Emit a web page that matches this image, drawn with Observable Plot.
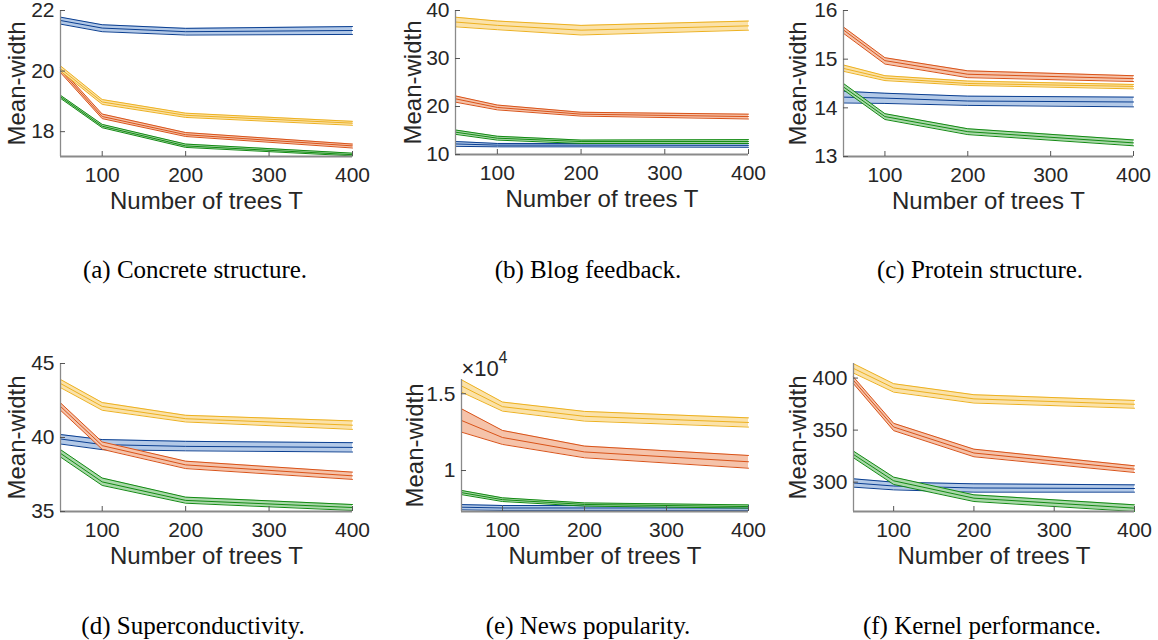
<!DOCTYPE html>
<html><head><meta charset="utf-8">
<script src="https://cdn.jsdelivr.net/npm/d3@7"></script>
<script src="https://cdn.jsdelivr.net/npm/@observablehq/plot@0.6"></script>
<style>
body{margin:0;background:#fff}
#wrap{position:relative;width:1158px;height:640px;overflow:hidden;background:#fff}
#wrap svg{position:absolute}
.cap{position:absolute;font-family:"Liberation Serif","Times New Roman",serif;font-size:25px;color:#000;white-space:nowrap;transform:translate(-50%,-50%)}
</style>
</head><body><div id="wrap"></div>
<script>
const trees = [50, 100, 200, 400];
const xTicks = [100, 200, 300, 400];
const seriesOrder = ["blue", "orange", "yellow", "green"];
const lineColors = {blue: "#0b3f91", orange: "#d95319", yellow: "#edb120", green: "#138a13"};
const fillColors = {blue: "#b3c9e7", orange: "#f5c3aa", yellow: "#fbe2a9", green: "#aad8aa"};

// each entry: [lower, mean, upper] at T = 50, 100, 200, 400
const concreteBlue   = [[21.55,21.67,21.78],[21.30,21.42,21.53],[21.19,21.30,21.41],[21.21,21.34,21.47]];
const concreteOrange = [[19.95,20.03,20.10],[18.43,18.50,18.58],[17.84,17.90,17.97],[17.46,17.53,17.59]];
const concreteYellow = [[20.00,20.08,20.17],[18.90,18.98,19.06],[18.47,18.54,18.61],[18.21,18.28,18.34]];
const concreteGreen  = [[19.10,19.15,19.20],[18.13,18.18,18.24],[17.48,17.53,17.59],[17.20,17.24,17.29]];

const blogBlue   = [[11.7,12.2,12.7],[11.6,11.95,12.3],[11.6,11.95,12.3],[11.5,11.9,12.3]];
const blogOrange = [[20.9,21.6,22.2],[19.3,19.8,20.3],[18.0,18.4,18.8],[17.4,17.9,18.4]];
const blogYellow = [[36.6,37.6,38.6],[36.0,36.9,37.8],[34.9,35.9,36.9],[35.9,36.8,37.8]];
const blogGreen  = [[14.2,14.65,15.1],[13.0,13.4,13.8],[12.3,12.7,13.0],[12.3,12.7,13.1]];

const proteinBlue   = [[14.10,14.22,14.34],[14.09,14.20,14.30],[14.05,14.14,14.24],[14.02,14.12,14.22]];
const proteinOrange = [[15.53,15.60,15.66],[14.90,14.97,15.03],[14.62,14.69,14.76],[14.54,14.60,14.66]];
const proteinYellow = [[14.75,14.81,14.88],[14.56,14.61,14.66],[14.46,14.50,14.55],[14.39,14.44,14.48]];
const proteinGreen  = [[14.37,14.43,14.50],[13.76,13.82,13.88],[13.45,13.51,13.57],[13.22,13.28,13.34]];

const superBlue   = [[39.56,39.90,40.20],[39.18,39.52,39.86],[39.10,39.40,39.74],[39.02,39.33,39.65]];
const superOrange = [[41.84,42.10,42.34],[39.20,39.45,39.70],[37.90,38.15,38.40],[37.17,37.41,37.66]];
const superYellow = [[43.37,43.65,43.92],[41.84,42.10,42.36],[41.05,41.27,41.50],[40.55,40.83,41.12]];
const superGreen  = [[38.68,38.93,39.18],[36.76,37.00,37.26],[35.56,35.75,35.97],[35.07,35.27,35.47]];

const newsBlue   = [[7440,7610,7780],[7400,7560,7720],[7400,7560,7720],[7400,7560,7720]];
const newsOrange = [[12500,13260,14020],[11700,12150,12610],[10830,11210,11590],[10150,10570,10980]];
const newsYellow = [[15110,15510,15910],[13870,14160,14460],[13220,13530,13850],[12830,13130,13430]];
const newsGreen  = [[8430,8560,8700],[7980,8100,8220],[7680,7790,7890],[7550,7650,7760]];

const kernelBlue   = [[295.2,299.2,303.2],[292.6,296.3,300.0],[290.4,294.4,298.4],[290.4,293.9,297.4]];
const kernelOrange = [[394.6,397.8,401.0],[349.5,353.0,356.5],[324.4,328.0,331.7],[309.3,312.5,315.7]];
const kernelYellow = [[404.8,409.3,413.8],[386.5,390.5,394.6],[376.0,380.0,384.0],[371.0,374.8,378.5]];
const kernelGreen  = [[323.4,326.6,329.8],[297.8,301.3,304.8],[281.4,284.6,287.8],[271.8,275.0,278.2]];

const captions = ["(a) Concrete structure.", "(b) Blog feedback.", "(c) Protein structure.",
                  "(d) Superconductivity.", "(e) News popularity.", "(f) Kernel performance."];

const panels = [
  {series: {blue: concreteBlue, orange: concreteOrange, yellow: concreteYellow, green: concreteGreen},
   yDomain: [17.18, 22], yTicks: [18, 20, 22], frame: [60, 352, 10, 156], yLabelOff: 43, cap: [195, 270]},
  {series: {blue: blogBlue, orange: blogOrange, yellow: blogYellow, green: blogGreen},
   yDomain: [10, 40], yTicks: [10, 20, 30, 40], frame: [455, 748, 10, 154], yLabelOff: 42, cap: [588, 270]},
  {series: {blue: proteinBlue, orange: proteinOrange, yellow: proteinYellow, green: proteinGreen},
   yDomain: [13, 16], yTicks: [13, 14, 15, 16], frame: [843, 1133, 10, 156], yLabelOff: 45, cap: [980, 270]},
  {series: {blue: superBlue, orange: superOrange, yellow: superYellow, green: superGreen},
   yDomain: [35, 45], yTicks: [35, 40, 45], frame: [60, 352, 363, 511], yLabelOff: 43, cap: [193, 626]},
  {series: {blue: newsBlue, orange: newsOrange, yellow: newsYellow, green: newsGreen},
   yDomain: [7330, 15930], yTicks: [10000, 15000], tickFormat: d => String(d / 1e4), exponent: true,
   frame: [461, 748, 379, 511], yLabelOff: 46, cap: [588, 626]},
  {series: {blue: kernelBlue, orange: kernelOrange, yellow: kernelYellow, green: kernelGreen},
   yDomain: [271.8, 414], yTicks: [300, 350, 400], frame: [853, 1134, 363, 511], yLabelOff: 55, cap: [982, 626]}
];

const wrap = document.getElementById("wrap");
const ml = 75, mr = 30, mt = 30, mb = 62;
const textColor = "#262626";

panels.forEach((p, idx) => {
  const [l, r, t, b] = p.frame;
  const rows = [];
  for (const s of seriesOrder) {
    p.series[s].forEach((v, i) => rows.push({s, x: trees[i], lo: v[0], mid: v[1], hi: v[2]}));
  }
  const marks = [];
  for (const s of seriesOrder) {
    const d = rows.filter(r => r.s === s);
    marks.push(Plot.areaY(d, {x: "x", y1: "lo", y2: "hi", fill: fillColors[s], fillOpacity: 1}));
    for (const k of ["lo", "mid", "hi"]) {
      marks.push(Plot.line(d, {x: "x", y: k, stroke: lineColors[s], strokeWidth: 1}));
    }
  }
  marks.push(Plot.ruleX([trees[0]], {stroke: "#8a8a8a", strokeWidth: 1.3}));
  marks.push(Plot.ruleY([p.yDomain[0]], {stroke: "#8a8a8a", strokeWidth: 1.8}));
  marks.push(Plot.axisY({ticks: p.yTicks, tickSize: -5, tickPadding: 11, fontSize: 21, label: null,
    tickFormat: p.tickFormat || (d => String(d)), stroke: "#555", color: textColor}));
  marks.push(Plot.axisX({ticks: xTicks, tickSize: -5, tickPadding: 16, fontSize: 21, label: null,
    tickFormat: d => String(d), stroke: "#555", color: textColor}));
  marks.push(Plot.text(["Mean-width"], {frameAnchor: "left", textAnchor: "middle", lineAnchor: "middle",
    rotate: -90, dx: -p.yLabelOff, fontSize: 24, fill: textColor}));
  marks.push(Plot.text(["Number of trees T"], {frameAnchor: "bottom", textAnchor: "middle", lineAnchor: "middle",
    dy: 45, fontSize: 24, fill: textColor}));
  if (p.exponent) {
    marks.push(Plot.text(["\u00d710"], {frameAnchor: "top-left", textAnchor: "start", lineAnchor: "middle", dx: 0, dy: -11, fontSize: 22, fill: textColor}));
    marks.push(Plot.text(["4"], {frameAnchor: "top-left", textAnchor: "start", lineAnchor: "middle", dx: 37, dy: -22, fontSize: 16, fill: textColor}));
  }
  const w = (r - l) + ml + mr, h = (b - t) + mt + mb;
  const chart = Plot.plot({
    width: w, height: h,
    marginLeft: ml, marginRight: mr, marginTop: mt, marginBottom: mb,
    x: {domain: [trees[0], 400], axis: null},
    y: {domain: p.yDomain, axis: null},
    clip: false,
    style: {fontFamily: "'Liberation Sans', Arial, Helvetica, sans-serif", background: "transparent", overflow: "visible", color: textColor},
    marks
  });
  chart.style.left = (l - ml) + "px";
  chart.style.top = (t - mt) + "px";
  wrap.appendChild(chart);
  const cap = document.createElement("div");
  cap.className = "cap";
  cap.textContent = captions[idx];
  cap.style.left = p.cap[0] + "px";
  cap.style.top = p.cap[1] + "px";
  wrap.appendChild(cap);
});
</script>
</body></html>
